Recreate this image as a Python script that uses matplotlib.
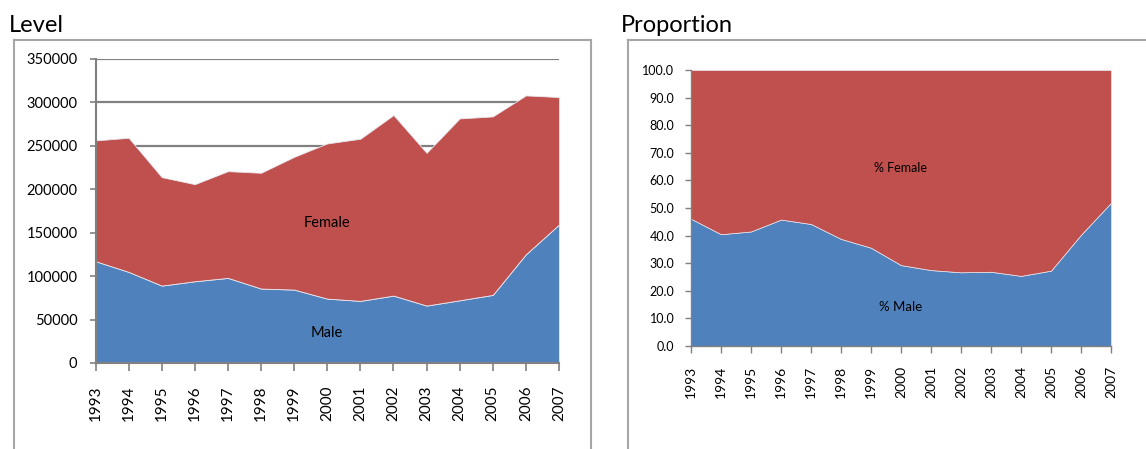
import matplotlib
matplotlib.use("Agg")
import matplotlib.pyplot as plt
from matplotlib.lines import Line2D

years = list(range(1993, 2008))

# head counts by sex
male = [117200, 104900, 89100, 94100, 98000, 85700, 84500, 74100,
        71500, 77600, 66100, 72200, 78400, 125200, 159400]
female = [139100, 154400, 124900, 111800, 122900, 133300, 152900, 178700,
          186700, 207900, 175900, 209400, 205500, 182900, 146800]

# shares in percent
pct_male = [46.1, 40.5, 41.5, 45.8, 44.2, 38.8, 35.6, 29.3,
            27.5, 26.7, 26.9, 25.4, 27.3, 40.3, 51.9]
pct_female = [53.9, 59.5, 58.5, 54.2, 55.8, 61.2, 64.4, 70.7,
              72.5, 73.3, 73.1, 74.6, 72.7, 59.7, 48.1]

level_ticks = list(range(0, 350001, 50000))
share_ticks = [i * 10.0 for i in range(11)]

BLUE = "#4F81BD"
RED = "#C0504D"
GREY = "#808080"

plt.rcParams["font.family"] = ["Lato", "DejaVu Sans"]

W, H = 1146, 449
fig = plt.figure(figsize=(W / 100, H / 100), dpi=100)


def px(x, y):
    return x / W, 1 - y / H


def frame_line(x0, y0, x1, y1):
    (a, b), (c, d) = px(x0, y0), px(x1, y1)
    fig.add_artist(Line2D([a, c], [b, d], color="#A6A6A6", lw=1.5,
                          transform=fig.transFigure))


# panel frames
frame_line(14, 40, 14, 449)
frame_line(14, 40, 591, 40)
frame_line(591, 40, 591, 449)
frame_line(628, 40, 628, 449)
frame_line(628, 40, 1146, 40)

fig.text(*px(9, 32), "Level", fontsize=17, ha="left", va="baseline")
fig.text(*px(621, 32), "Proportion", fontsize=17, ha="left", va="baseline")


def style_axes(ax):
    for s in ("top", "right"):
        ax.spines[s].set_visible(False)
    for s in ("left", "bottom"):
        ax.spines[s].set_color(GREY)
        ax.spines[s].set_linewidth(1.5)
    ax.set_xticks(years)
    ax.set_xlim(1993, 2007)


# Level
ax1 = fig.add_axes([95.5 / W, 1 - 363 / H, (559 - 95.5) / W, (363 - 59) / H])
ax1.stackplot(years, male, female, colors=[BLUE, RED],
              edgecolor="#E8E8F0", linewidth=0.6, zorder=2)
ax1.set_ylim(0, 350000)
ax1.set_yticks(level_ticks)
ax1.set_yticklabels([str(v) for v in level_ticks])
ax1.grid(axis="y", color=GREY, lw=1.6, zorder=0)
ax1.set_axisbelow(True)
style_axes(ax1)
ax1.set_xticklabels([str(y) for y in years], rotation=90)
ax1.tick_params(axis="y", length=4, width=1.2, color=GREY, pad=9, labelsize=10.5)
ax1.tick_params(axis="x", length=6, width=1.2, color=GREY, pad=10, labelsize=11)
ax1.text(2000, 161000, "Female", ha="center", va="center", fontsize=10.5)
ax1.text(2000, 34000, "Male", ha="center", va="center", fontsize=10.5)

# Proportion
ax2 = fig.add_axes([691 / W, 1 - 346 / H, (1111 - 691) / W, (346 - 70) / H])
ax2.stackplot(years, pct_male, pct_female, colors=[BLUE, RED],
              edgecolor="#E8E8F0", linewidth=0.5, zorder=2)
ax2.set_ylim(0, 100)
ax2.set_yticks(share_ticks)
ax2.set_yticklabels([f"{v:.1f}" for v in share_ticks])
style_axes(ax2)
ax2.spines["left"].set_linewidth(1.0)
ax2.spines["bottom"].set_linewidth(1.0)
ax2.set_xticklabels([str(y) for y in years], rotation=90)
ax2.tick_params(axis="y", length=4, width=1.0, color=GREY, pad=8, labelsize=9)
ax2.tick_params(axis="x", length=5, width=1.0, color=GREY, pad=9, labelsize=10)
ax2.text(2000, 64.5, "% Female", ha="center", va="center", fontsize=9)
ax2.text(2000, 14, "% Male", ha="center", va="center", fontsize=9.5)

fig.savefig("out.png", dpi=100)
